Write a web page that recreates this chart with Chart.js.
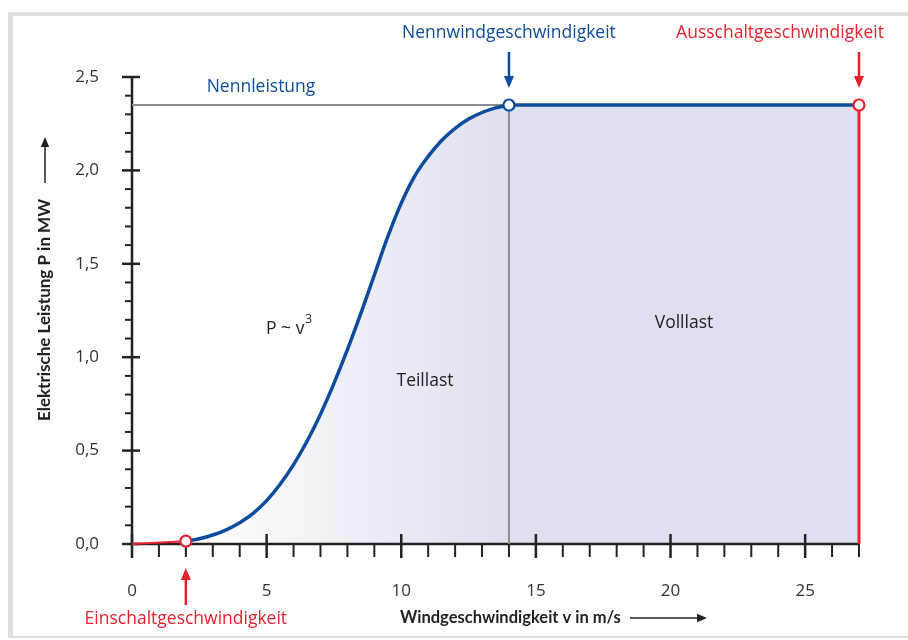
<!DOCTYPE html>
<html>
<head>
<meta charset="utf-8">
<script src="https://cdn.jsdelivr.net/npm/chart.js@4.4.1/dist/chart.umd.min.js"></script>
<style>
  html, body { margin: 0; padding: 0; background: #fff; }
  #wrap { position: absolute; left: 0; top: 0; width: 908px; height: 640px; }
</style>
</head>
<body>
<div id="wrap"><canvas id="powerChart" width="908" height="640"></canvas></div>
<script>
// Leistungskurve einer Windenergieanlage
const windSpeed = [2, 2.5, 3, 3.5, 4, 4.5, 5, 5.5, 6, 6.5, 7, 7.5, 8, 8.5, 9, 9.5, 10, 10.5, 11, 11.5, 12, 12.5, 13, 13.5, 14];
const power = [0.015, 0.028, 0.048, 0.076, 0.114, 0.164, 0.232, 0.32, 0.425, 0.55, 0.695, 0.86, 1.04, 1.235, 1.44, 1.645, 1.825, 1.97, 2.075, 2.16, 2.225, 2.275, 2.31, 2.335, 2.35];

const fullLoadSpeed = [14, 27];
const fullLoadPower = [2.35, 2.35];

const cutInSpeed = [0, 2];
const cutInPower = [0, 0.015];

const ratedSpeed = 14;     // Nennwindgeschwindigkeit
const ratedPower = 2.35;   // Nennleistung
const cutOutSpeed = 27;    // Ausschaltgeschwindigkeit
const cutInPoint = 2;      // Einschaltgeschwindigkeit

const xTickStep = 1;
const yTickStep = 0.1;
const xMax = 27;
const yMax = 2.5;

const BLUE = '#0d4b9c';
const RED = '#e8222d';
const GRAY = '#8c8c8c';
const INK = '#222222';
const FONT = '"Open Sans", "Noto Sans", sans-serif';
const BOLD_FONT = 'Lato, "Open Sans", sans-serif';

const pts = (xs, ys) => xs.map((x, i) => ({ x: x, y: ys[i] }));
const LAST_FILL = 6;

function arrow(ctx, x1, y1, x2, y2, color, width, head) {
  const ang = Math.atan2(y2 - y1, x2 - x1);
  const c = Math.cos(ang), s = Math.sin(ang);
  ctx.save();
  ctx.strokeStyle = color;
  ctx.fillStyle = color;
  ctx.lineWidth = width;
  ctx.beginPath();
  ctx.moveTo(x1, y1);
  ctx.lineTo(x2 - c * head * 0.8, y2 - s * head * 0.8);
  ctx.stroke();
  ctx.beginPath();
  ctx.moveTo(x2, y2);
  ctx.lineTo(x2 - c * head - s * head * 0.42, y2 - s * head + c * head * 0.42);
  ctx.lineTo(x2 - c * head + s * head * 0.42, y2 - s * head - c * head * 0.42);
  ctx.closePath();
  ctx.fill();
  ctx.restore();
}

// grauer Rahmen
const framePlugin = {
  id: 'frame',
  beforeDraw(chart) {
    const ctx = chart.ctx;
    ctx.save();
    ctx.fillStyle = '#dedede';
    ctx.fillRect(8, 12, 900, 4);
    ctx.fillRect(8, 12, 5, 626);
    ctx.fillRect(8, 636, 900, 2);
    ctx.restore();
  }
};

// Achsen mit Haupt- und Nebenstrichen, direkt nach den Flaechen gezeichnet
const axesPlugin = {
  id: 'axes',
  afterDatasetDraw(chart, args) {
    if (args.index !== LAST_FILL) return;
    const { ctx, scales: { x, y } } = chart;
    const x0 = x.getPixelForValue(0);
    const y0 = y.getPixelForValue(0);
    ctx.save();
    ctx.strokeStyle = INK;
    ctx.lineCap = 'butt';
    ctx.lineWidth = 2.5;
    ctx.beginPath();
    ctx.moveTo(x0, y0 + 1.2);
    ctx.lineTo(x0, y.getPixelForValue(yMax));
    ctx.moveTo(x0 - 1.2, y0);
    ctx.lineTo(x.getPixelForValue(xMax) + 1, y0);
    ctx.stroke();
    y.ticks.forEach(t => {
      const py = y.getPixelForValue(t.value);
      const major = Math.round(t.value * 10) % 5 === 0;
      ctx.lineWidth = major ? 2.5 : 2;
      ctx.beginPath();
      ctx.moveTo(x0 - (major ? 10 : 7), py);
      ctx.lineTo(x0 + (major ? 8 : 0), py);
      ctx.stroke();
    });
    x.ticks.forEach(t => {
      const px = x.getPixelForValue(t.value);
      const major = t.value % 5 === 0;
      ctx.lineWidth = major ? 2.5 : 2;
      ctx.beginPath();
      ctx.moveTo(px, y0 - (major ? 10 : 0));
      ctx.lineTo(px, y0 + (major ? 14 : 13));
      ctx.stroke();
    });
    ctx.restore();
  }
};

// Beschriftungen und Pfeile
const labelPlugin = {
  id: 'labels',
  afterDraw(chart) {
    const { ctx, scales: { x, y } } = chart;
    const xr = x.getPixelForValue(ratedSpeed);
    const xc = x.getPixelForValue(cutOutSpeed);
    const xi = x.getPixelForValue(cutInPoint);
    const yTop = y.getPixelForValue(ratedPower);
    ctx.save();
    ctx.textBaseline = 'middle';
    ctx.textAlign = 'center';
    ctx.font = '17.5px ' + FONT;

    ctx.fillStyle = BLUE;
    ctx.fillText('Nennwindgeschwindigkeit', xr, 33);
    ctx.fillText('Nennleistung', 261, 87);
    arrow(ctx, xr, 52, xr, yTop - 17, BLUE, 2.5, 12);

    ctx.fillStyle = RED;
    ctx.fillText('Ausschaltgeschwindigkeit', 780, 33);
    arrow(ctx, xc, 52, xc, yTop - 17, RED, 2.5, 12);
    ctx.fillStyle = RED;
    ctx.fillText('Einschaltgeschwindigkeit', xi, 619);
    arrow(ctx, xi, 605, xi, 568, RED, 2.5, 12);

    ctx.fillStyle = INK;
    ctx.fillText('Teillast', 425, 381);
    ctx.fillText('Volllast', 684, 323);
    // P ~ v mit hochgestellter 3
    ctx.textAlign = 'left';
    ctx.fillText('P ~ v', 266, 329);
    const w = ctx.measureText('P ~ v').width;
    ctx.font = '12px ' + FONT;
    ctx.fillText('3', 266 + w + 1, 320);

    // Achsentitel
    ctx.font = 'bold 16.5px ' + BOLD_FONT;
    ctx.textAlign = 'left';
    ctx.fillText('Windgeschwindigkeit v in m/s', 400, 618);
    arrow(ctx, 630, 618, 707, 618, INK, 1.5, 10);

    ctx.font = 'bold 17px ' + BOLD_FONT;
    ctx.save();
    ctx.translate(45, 310);
    ctx.rotate(-Math.PI / 2);
    ctx.textAlign = 'center';
    ctx.fillText('Elektrische Leistung P in MW', 0, 0);
    ctx.restore();
    arrow(ctx, 45, 183, 45, 137, INK, 1.5, 10);

    ctx.restore();
  }
};

const lineStyle = { pointRadius: 0, fill: false, clip: false };

const ctx = document.getElementById('powerChart').getContext('2d');
new Chart(ctx, {
  type: 'line',
  data: {
    datasets: [
      {
        // 0: Markierungen
        data: [
          { x: cutInPoint, y: cutInPower[1] },
          { x: ratedSpeed, y: ratedPower },
          { x: cutOutSpeed, y: ratedPower }
        ],
        showLine: false,
        clip: false,
        pointRadius: 5.5,
        pointBorderWidth: 2.2,
        pointBackgroundColor: '#ffffff',
        pointBorderColor: [RED, BLUE, RED]
      },
      Object.assign({ data: pts(windSpeed, power), borderColor: BLUE, borderWidth: 3.5, tension: 0.4 }, lineStyle),
      Object.assign({ data: pts(fullLoadSpeed, fullLoadPower), borderColor: BLUE, borderWidth: 3.5 }, lineStyle),
      Object.assign({ data: pts(cutInSpeed, cutInPower), borderColor: RED, borderWidth: 2 }, lineStyle),
      Object.assign({ data: [{ x: cutOutSpeed, y: ratedPower }, { x: cutOutSpeed, y: 0 }], borderColor: RED, borderWidth: 3 }, lineStyle),
      Object.assign({ data: [{ x: 0, y: ratedPower }, { x: ratedSpeed, y: ratedPower }, { x: ratedSpeed, y: 0 }], borderColor: GRAY, borderWidth: 2 }, lineStyle),
      {
        // 6: Flaeche Volllast
        data: pts(fullLoadSpeed, fullLoadPower),
        borderWidth: 0,
        borderColor: 'rgba(0,0,0,0)',
        pointRadius: 0,
        fill: 'origin',
        backgroundColor: '#dde0ee'
      },
      {
        // 7: Flaeche Teillast
        data: pts(windSpeed, power),
        borderWidth: 0,
        borderColor: 'rgba(0,0,0,0)',
        pointRadius: 0,
        tension: 0.4,
        fill: 'origin',
        backgroundColor: (c) => {
          const chart = c.chart;
          if (!chart.chartArea) return '#dde0ee';
          const sx = chart.scales.x;
          const g = chart.ctx.createLinearGradient(sx.getPixelForValue(cutInPoint), 0, sx.getPixelForValue(ratedSpeed), 0);
          g.addColorStop(0, '#ffffff');
          g.addColorStop(1, '#dde0ee');
          return g;
        }
      }
    ]
  },
  options: {
    responsive: false,
    animation: false,
    devicePixelRatio: 1,
    layout: { padding: { left: 0, right: 49, top: 77, bottom: 0 } },
    plugins: {
      legend: { display: false },
      tooltip: { enabled: false }
    },
    scales: {
      x: {
        type: 'linear',
        min: 0,
        max: xMax,
        grid: { display: false },
        border: { display: false },
        afterFit: (s) => { s.height = 96; },
        ticks: {
          stepSize: xTickStep,
          autoSkip: false,
          maxRotation: 0,
          padding: 29,
          color: '#333',
          font: { family: FONT, size: 17 },
          callback: (v) => (v % 5 === 0 ? String(v) : '')
        }
      },
      y: {
        min: 0,
        max: yMax,
        grid: { display: false },
        border: { display: false },
        afterFit: (s) => { s.width = 132; },
        ticks: {
          stepSize: yTickStep,
          autoSkip: false,
          padding: 25,
          color: '#333',
          font: { family: FONT, size: 17 },
          callback: (v) => {
            const t = Math.round(v * 10);
            return t % 5 === 0 ? (t / 10).toFixed(1).replace('.', ',') : '';
          }
        }
      }
    }
  },
  plugins: [framePlugin, axesPlugin, labelPlugin]
});
</script>
</body>
</html>
